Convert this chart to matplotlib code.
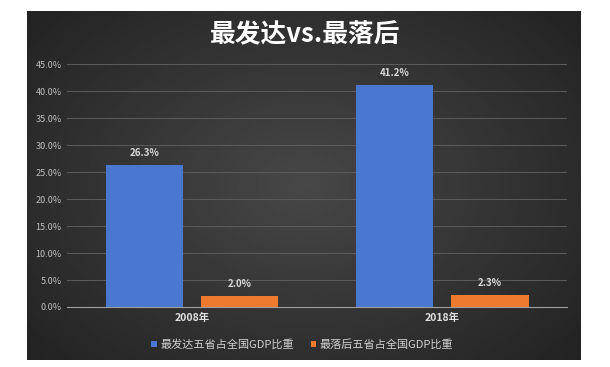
import numpy as np
import matplotlib
matplotlib.use("Agg")
from matplotlib import pyplot as plt

plt.rcParams['font.family'] = ['Noto Sans CJK SC', 'DejaVu Sans']

years = ["2008年", "2018年"]
top5 = [26.3, 41.2]
bottom5 = [2.0, 2.3]
series_names = ["最发达五省占全国GDP比重", "最落后五省占全国GDP比重"]
yticks = [0, 5, 10, 15, 20, 25, 30, 35, 40, 45]

fig = plt.figure(figsize=(6.1, 3.67), dpi=100)
fig.patch.set_facecolor("white")

# dark panel with soft radial gradient
bg = fig.add_axes([0.044, 0.019, 0.908, 0.951])
yy, xx = np.mgrid[-1:1:200j, -1:1:300j]
r = np.sqrt((xx * 0.9) ** 2 + (yy * 0.8) ** 2)
bg.imshow(0.28 - 0.12 * r, cmap="gray", vmin=0, vmax=1, aspect="auto",
          extent=[0, 1, 0, 1])
bg.axis("off")

ax = fig.add_axes([0.110, 0.1635, 0.820, 0.662])
ax.patch.set_alpha(0)

x = np.arange(len(years))
w = 0.31
off = 0.19
b1 = ax.bar(x - off, top5, w, color="#4a78d0", zorder=3)
b2 = ax.bar(x + off, bottom5, w, color="#ee7a2e", zorder=3)

for bars, vals in ((b1, top5), (b2, bottom5)):
    for b, v in zip(bars, vals):
        ax.text(b.get_x() + b.get_width() / 2, v + 1.3, f"{v:.1f}%",
                ha="center", va="bottom", color="#d9d9d9", fontsize=7,
                fontweight="bold")

ax.set_xlim(-0.5, 1.5)
ax.set_ylim(0, 45)
ax.set_yticks(yticks)
ax.set_yticklabels([f"{t:.1f}%" for t in yticks], color="#bfbfbf", fontsize=6.5)
ax.set_xticks(x)
ax.set_xticklabels(years, color="#e0e0e0", fontsize=7.5, fontweight="bold")
ax.tick_params(length=0, pad=4)
ax.grid(axis="y", color="#5c5c5c", linewidth=0.7, zorder=0)
for s in ["top", "right", "left"]:
    ax.spines[s].set_visible(False)
ax.spines["bottom"].set_color("#a0a0a0")
ax.spines["bottom"].set_zorder(4)

fig.text(0.5, 0.905, "最发达vs.最落后", ha="center", va="center",
         color="white", fontsize=18.5, fontweight="bold")

leg = ax.legend([b1, b2], series_names, loc="center", ncol=2,
                bbox_to_anchor=(0.47, -0.155), frameon=False, fontsize=8,
                handlelength=0.5, handleheight=0.5, handletextpad=0.3,
                columnspacing=1.5)
for t in leg.get_texts():
    t.set_color("#d0d0d0")

fig.savefig("out.png", dpi=100)
